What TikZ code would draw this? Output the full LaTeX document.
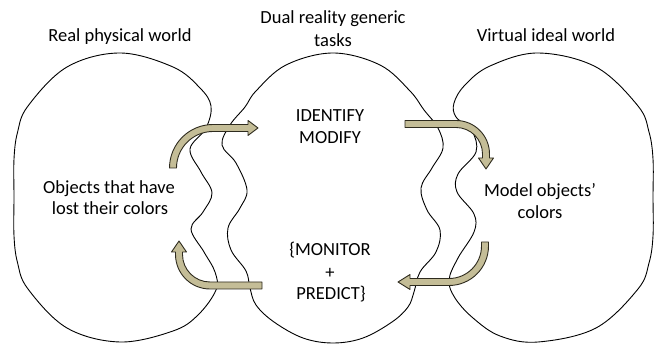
\documentclass[tikz,border=0pt]{standalone}
\usepackage{fontspec}
\setmainfont{Carlito}
\begin{document}
\begin{tikzpicture}[x=1pt,y=1pt,
  blob/.style={draw=black, line width=0.9pt},
  blockarrow/.style={draw=arrowline, fill=arrowfill, line width=0.9pt, line join=round},
  lbl/.style={anchor=base, inner sep=0pt, font=\fontsize{18.5}{22.5}\selectfont}]
\definecolor{arrowfill}{HTML}{C4BD97}
\definecolor{arrowline}{HTML}{2E2B1E}
\useasboundingbox (0,0) rectangle (655,347);

% Left shape: real physical world
\draw[blob] plot[smooth cycle, tension=0.6] coordinates {
 (120,294) (173,280) (200,259) (211,241) (206,219) (190,198) (201,175) (212,154)
 (203,135) (191,118) (204,95) (215,75) (216,57) (198,32) (173,16) (120,5)
 (67,19) (28,58) (17.6,84) (14,111) (14,150) (14,188) (17.6,215) (28,241) (67,280)};

% Middle shape: dual reality generic tasks
\draw[blob] plot[smooth cycle, tension=0.6] coordinates {
 (333,294) (380,282) (410,256) (424,237) (438,219) (443,199) (432,179) (421,159)
 (427,137) (440,117) (436,95) (420,75) (414,55) (408,40) (392,25) (363,9) (333,4)
 (303,9) (274,25) (256,42) (250,59) (246,76) (231,97) (228,119) (240,139) (247,157)
 (236,184) (222,202) (230,222) (245,240) (256,256) (286,282)};

% Right shape: virtual ideal world
\draw[blob] plot[smooth cycle, tension=0.6] coordinates {
 (538,294) (596,280) (638,241) (649,215) (653,188) (653,150) (653,111) (649,84)
 (638,58) (596,19) (538,5)
 (500,11) (473,29) (455,49) (449,67) (458,89) (474,115) (474,133) (457,155)
 (458,173) (476,195) (472,216) (456,230) (454,244) (465,262) (490,281)};

% Block arrows
\draw[blockarrow] (169.5,179) arc[start angle=180,end angle=90,radius=43.5]
  -- (248,222.5) -- (248,226.5) -- (258,219) -- (248,211.5) -- (248,215.5)
  -- (213,215.5) arc[start angle=90,end angle=180,radius=36.5] -- cycle;
\draw[blockarrow] (262,65) -- (210,65) arc[start angle=270,end angle=180,radius=27.5]
  -- (182.5,95) -- (186.5,95) -- (179,106) -- (171.5,95) -- (175.5,95) -- (175.5,92.5)
  arc[start angle=180,end angle=270,radius=34.5] -- (262,58) -- cycle;
\draw[blockarrow] (405,226.5) -- (456,226.5) arc[start angle=90,end angle=0,radius=33.5]
  -- (489.5,189) -- (493.5,189) -- (486,178) -- (478.5,189) -- (482.5,189) -- (482.5,193)
  arc[start angle=0,end angle=90,radius=26.5] -- (405,219.5) -- cycle;
\draw[blockarrow] (488.5,105) -- (488.5,101) arc[start angle=0,end angle=-90,radius=39.5]
  -- (410,61.5) -- (410,57.5) -- (398,65) -- (410,72.5) -- (410,68.5) -- (449,68.5)
  arc[start angle=-90,end angle=0,radius=32.5] -- (481.5,105) -- cycle;

% Titles
\node[lbl] (tl) at (120,305.3) {Real physical world};
\node[lbl] (tm1) at (333,323) {Dual reality generic};
\node[lbl] (tm2) at (333,300.3) {tasks};
\node[lbl] (tr) at (546,305.3) {Virtual ideal world};

% Inner texts
\node[lbl] (l1) at (109,153.7) {Objects that have};
\node[lbl] (l2) at (110,132) {lost their colors};
\node[lbl] (m1) at (330,225.3) {IDENTIFY};
\node[lbl] (m2) at (330,203.7) {MODIFY};
\node[lbl] (m3) at (330,91) {\{MONITOR};
\node[lbl] (m4) at (330,68.5) {+};
\node[lbl] (m5) at (331,47) {PREDICT\}};
\node[lbl] (r1) at (540,150.3) {Model objects’};
\node[lbl] (r2) at (540,128.7) {colors};
\end{tikzpicture}
\end{document}
